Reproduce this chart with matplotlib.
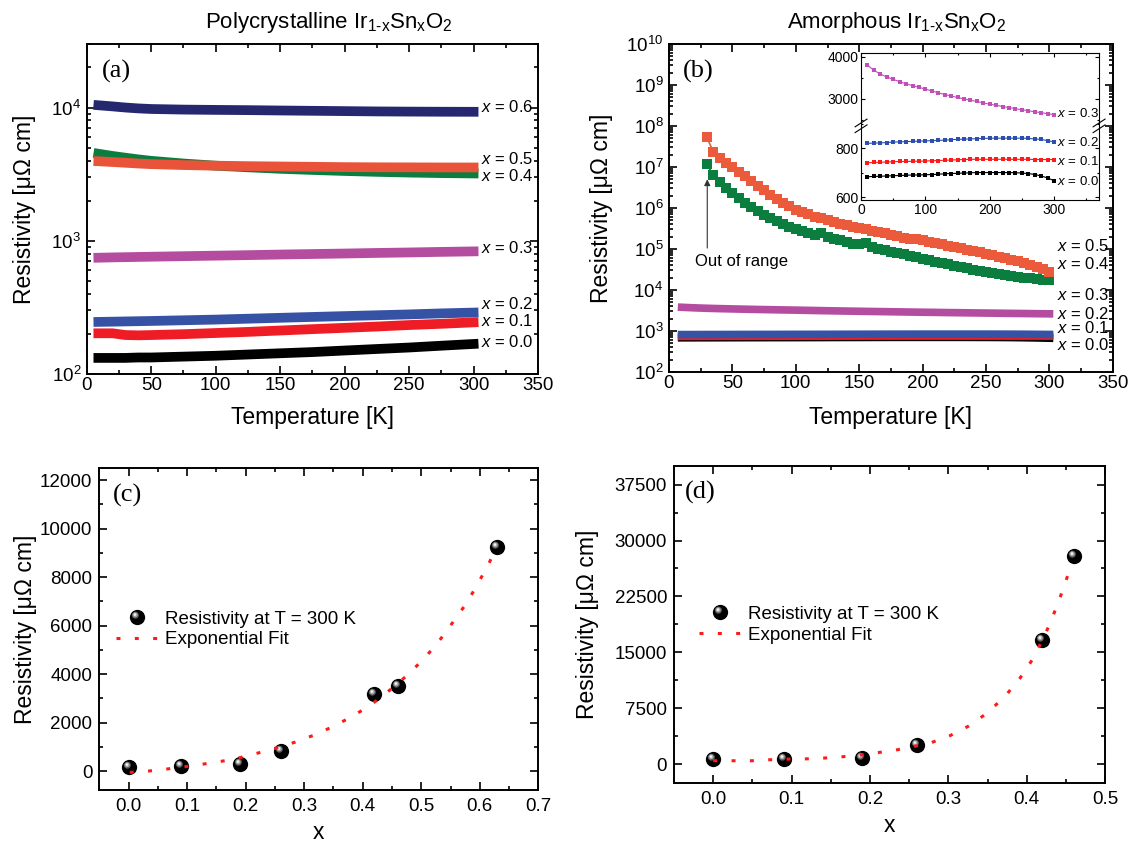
import numpy as np
import matplotlib
matplotlib.use('Agg')
import matplotlib.pyplot as plt
from matplotlib.path import Path
from matplotlib.legend_handler import HandlerTuple
from matplotlib import ticker

plt.rcParams['font.family'] = ['Liberation Sans', 'DejaVu Sans']
plt.rcParams['mathtext.fontset'] = 'custom'
plt.rcParams['mathtext.rm'] = 'Liberation Sans'
plt.rcParams['mathtext.it'] = 'Liberation Sans:italic'
plt.rcParams['mathtext.bf'] = 'Liberation Sans:bold'
plt.rcParams['axes.linewidth'] = 1.4

# ---------------- data ----------------
# (a) polycrystalline, resistivity vs T
T_poly = [9, 20, 30, 40, 50, 75, 100, 125, 150, 175, 200, 225, 250, 275, 300]
poly_x00 = [132, 132, 132, 133, 133, 135, 137, 140, 143, 146, 150, 154, 158, 163, 168]
poly_x01 = [202, 202, 196, 195, 196, 199, 203, 207, 212, 217, 222, 227, 233, 238, 244]
poly_x02 = [246, 247, 248, 249, 250, 253, 256, 260, 264, 268, 272, 276, 280, 285, 289]
poly_x03 = [746, 750, 753, 756, 759, 766, 773, 780, 788, 795, 802, 810, 817, 825, 832]
poly_x04 = [4500, 4330, 4200, 4080, 3980, 3800, 3660, 3560, 3470, 3400, 3340, 3290, 3250, 3220, 3200]
poly_x05 = [3950, 3900, 3850, 3800, 3760, 3700, 3660, 3630, 3610, 3590, 3570, 3560, 3555, 3550, 3550]
poly_x06 = [10400, 10200, 10000, 9850, 9750, 9650, 9600, 9560, 9500, 9450, 9400, 9350, 9320, 9300, 9290]
poly_labels = ['0.0', '0.1', '0.2', '0.3', '0.4', '0.5', '0.6']

# (b) amorphous, x = 0.4 and 0.5 (every 5 K from 30 K)
T_amo_hi = list(range(30, 301, 5))
amo_x05 = [5.3e7, 2.3e7, 1.7e7, 1.27e7, 1.02e7, 7.7e6, 6.0e6, 4.6e6, 3.5e6, 2.7e6,
           2.1e6, 1.65e6, 1.35e6, 1.1e6, 9.2e5, 8.0e5, 7.0e5, 6.2e5, 5.6e5, 5.0e5,
           4.5e5, 4.1e5, 3.8e5, 3.5e5, 3.3e5, 3.05e5, 2.8e5, 2.6e5, 2.4e5, 2.2e5,
           2.05e5, 1.9e5, 1.78e5, 1.74e5, 1.62e5, 1.51e5, 1.40e5, 1.30e5, 1.21e5, 1.12e5,
           1.04e5, 9.6e4, 8.9e4, 8.3e4, 7.7e4, 7.1e4, 6.5e4, 6.0e4, 5.5e4, 5.0e4,
           4.5e4, 4.0e4, 3.6e4, 3.2e4, 2.8e4]
amo_x04 = [1.16e7, 6.3e6, 4.3e6, 3.1e6, 2.3e6, 1.75e6, 1.35e6, 1.05e6, 8.4e5, 6.9e5,
           5.7e5, 4.8e5, 4.1e5, 3.5e5, 3.05e5, 2.7e5, 2.4e5, 2.2e5, 2.45e5, 2.0e5,
           1.8e5, 1.62e5, 1.5e5, 1.3e5, 1.35e5, 1.42e5, 1.1e5, 1.0e5, 9.3e4, 8.6e4,
           8.0e4, 7.4e4, 6.8e4, 6.3e4, 5.8e4, 5.35e4, 4.95e4, 4.6e4, 4.25e4, 3.95e4,
           3.65e4, 3.4e4, 3.15e4, 2.95e4, 2.75e4, 2.6e4, 2.45e4, 2.3e4, 2.2e4, 2.1e4,
           2.0e4, 1.92e4, 1.85e4, 1.78e4, 1.72e4]

# (b) amorphous, x = 0.0 ... 0.3 (inset data, every 10 K)
T_amo_lo = [10, 20, 30, 40, 50, 60, 70, 80, 90, 100, 110, 120, 130, 140, 150,
            160, 170, 180, 190, 200, 210, 220, 230, 240, 250, 260, 270, 280, 290, 300]
amo_x03 = [3800, 3680, 3590, 3520, 3465, 3410, 3360, 3315, 3275, 3235, 3190, 3145, 3105, 3070, 3035,
           3000, 2970, 2940, 2905, 2875, 2850, 2820, 2795, 2770, 2745, 2720, 2695, 2675, 2650, 2630]
amo_x02 = [820, 821, 822, 823, 825, 826, 827, 828, 829, 830, 831, 832, 833, 835, 836,
           837, 838, 839, 840, 841, 841, 841, 841, 841, 841, 840, 838, 836, 831, 826]
amo_x01 = [741, 742, 743, 744, 745, 746, 746, 747, 747, 748, 749, 750, 751, 752, 753,
           754, 755, 755, 755, 755, 755, 755, 755, 755, 755, 755, 754, 754, 754, 754]
amo_x00 = [684, 685, 686, 687, 688, 689, 690, 691, 691, 692, 693, 694, 696, 697, 698,
           699, 700, 701, 701, 701, 701, 701, 701, 700, 699, 697, 693, 687, 679, 668]
amo_labels = ['0.0', '0.1', '0.2', '0.3', '0.4', '0.5']

# (c) polycrystalline resistivity at 300 K vs x, with fit curve
xc_data = [0.0, 0.09, 0.19, 0.26, 0.42, 0.46, 0.63]
rc_data = [160, 220, 280, 825, 3190, 3505, 9250]
xc_fit = [0.002, 0.034, 0.065, 0.096, 0.128, 0.161, 0.192, 0.223, 0.254, 0.285, 0.317, 0.350,
          0.381, 0.413, 0.445, 0.476, 0.507, 0.533, 0.556, 0.578, 0.597, 0.615, 0.628]
rc_fit = [-55, 0, 83, 179, 289, 413, 564, 756, 963, 1196, 1485, 1843,
          2241, 2709, 3314, 3946, 4689, 5445, 6201, 6944, 7741, 8525, 9226]

# (d) amorphous resistivity at 300 K vs x, with fit curve
xd_data = [0.0, 0.09, 0.19, 0.26, 0.42, 0.46]
rd_data = [640, 720, 760, 2600, 16700, 27900]
xd_fit = [0.0, 0.025, 0.049, 0.072, 0.096, 0.118, 0.141, 0.165, 0.187, 0.209, 0.233, 0.255,
          0.279, 0.302, 0.326, 0.349, 0.372, 0.391, 0.407, 0.419, 0.430, 0.439, 0.447, 0.455]
rd_fit = [448, 448, 448, 582, 672, 700, 806, 986, 1210, 1523, 1882, 2330,
          2912, 3808, 5107, 6810, 9050, 11469, 13978, 16442, 18906, 21370, 23610, 26163]

legend_labels = ['Resistivity at T = 300 K', 'Exponential Fit']

# ---------------- styles ----------------
poly_colors = ['#000000', '#ee1c24', '#3552a5', '#b44da0', '#0b7d3e', '#e8533a', '#25276f']
amo_colors = ['#000000', '#ee1c24', '#3552a5', '#b44da0', '#0b7d3e', '#ec5a3c']
inset_colors = ['#000000', '#ff1a1a', '#2e4fb0', '#c050b8']
fit_color = '#ff1a1a'
ylab = 'Resistivity [\u03bc\u03a9 cm]'


def style(ax, lsize=13.5, xpad=2, ypad=4):
    ax.tick_params(which='both', direction='in', top=True, right=True,
                   width=1.2, labelsize=lsize)
    ax.tick_params(which='major', length=5.5)
    ax.tick_params(which='minor', length=3)
    ax.tick_params(axis='x', pad=xpad)
    ax.tick_params(axis='y', pad=ypad)


def circ_path(cx, cy, r):
    c = Path.circle((cx, cy), r)
    box = Path([(-1, -1), (1, 1)], [Path.MOVETO, Path.MOVETO])
    return Path.make_compound_path(c, box)


hl_layers = [(circ_path(-0.28, 0.30, 0.46), '#5a5a5a'),
             (circ_path(-0.30, 0.34, 0.32), '#a8a8a8'),
             (circ_path(-0.33, 0.38, 0.17), '#f2f2f2')]


def balls(ax, x, y, ms=11):
    h = [ax.plot(x, y, ls='none', marker='o', ms=ms, mfc='black', mec='black', mew=0, zorder=3)[0]]
    for p, c in hl_layers:
        h.append(ax.plot(x, y, ls='none', marker=p, ms=ms, mfc=c, mec=c, mew=0, zorder=4)[0])
    return tuple(h)


fig = plt.figure(figsize=(11.34, 8.44), dpi=100)

# ---------------- (a) ----------------
axa = fig.add_axes([0.0765, 0.5569, 0.3980, 0.3910])
for vals, c in zip([poly_x00, poly_x01, poly_x02, poly_x03, poly_x04, poly_x05, poly_x06], poly_colors):
    axa.plot(T_poly, vals, color=c, lw=7, solid_capstyle='projecting', solid_joinstyle='miter')
axa.set_yscale('log')
axa.set_xlim(0, 350)
axa.set_ylim(100, 3e4)
axa.xaxis.set_major_locator(ticker.MultipleLocator(50))
axa.xaxis.set_minor_locator(ticker.MultipleLocator(25))
axa.yaxis.set_major_locator(ticker.LogLocator(base=10, numticks=20))
axa.yaxis.set_minor_locator(ticker.LogLocator(base=10, subs=np.arange(2, 10), numticks=20))
axa.yaxis.set_minor_formatter(ticker.NullFormatter())
style(axa)
axa.set_xlabel('Temperature [K]', fontsize=16.5)
axa.xaxis.label.set_va('center')
axa.xaxis.set_label_coords(0.5, -0.133)
axa.set_ylabel(ylab, fontsize=16.5)
axa.yaxis.label.set_va('center')
axa.yaxis.set_label_coords(-0.137, 0.5)
for lab, yy in zip(poly_labels, [0.096, 0.162, 0.211, 0.381, 0.600, 0.650, 0.808]):
    axa.text(0.873, yy, r'$x$ = ' + lab, transform=axa.transAxes, fontsize=12, va='center', ha='left')
axa.text(0.034, 0.916, '(a)', transform=axa.transAxes, fontsize=19, family='Liberation Serif', va='center')

# ---------------- (b) ----------------
axb = fig.add_axes([0.5899, 0.5592, 0.3915, 0.3886])
for vals, c in zip([amo_x00, amo_x01, amo_x02, amo_x03], amo_colors[:4]):
    axb.plot(T_amo_lo, vals, color=c, lw=5.5, solid_capstyle='projecting', solid_joinstyle='miter')
for vals, c in zip([amo_x04, amo_x05], amo_colors[4:]):
    axb.plot(T_amo_hi, vals, color=c, lw=1.2, marker='s', ms=6.5, mew=0)
axb.set_yscale('log')
axb.set_xlim(0, 350)
axb.set_ylim(1e2, 1e10)
axb.xaxis.set_major_locator(ticker.MultipleLocator(50))
axb.xaxis.set_minor_locator(ticker.MultipleLocator(25))
axb.yaxis.set_major_locator(ticker.LogLocator(base=10, numticks=20))
axb.yaxis.set_minor_locator(ticker.LogLocator(base=10, subs=np.arange(2, 10), numticks=20))
axb.yaxis.set_minor_formatter(ticker.NullFormatter())
style(axb)
axb.set_xlabel('Temperature [K]', fontsize=16.5)
axb.xaxis.label.set_va('center')
axb.xaxis.set_label_coords(0.5, -0.140)
axb.set_ylabel(ylab, fontsize=16.5)
axb.yaxis.label.set_va('center')
axb.yaxis.set_label_coords(-0.153, 0.5)
for lab, yy in zip(amo_labels, [0.083, 0.134, 0.178, 0.234, 0.330, 0.384]):
    axb.text(0.874, yy, r'$x$ = ' + lab, transform=axb.transAxes, fontsize=12, va='center', ha='left')
axb.text(0.032, 0.916, '(b)', transform=axb.transAxes, fontsize=19, family='Liberation Serif', va='center')
axb.annotate('', xy=(0.0863, 0.5875), xytext=(0.0863, 0.378), xycoords='axes fraction',
             arrowprops=dict(arrowstyle='-|>', lw=0.8, color='#333333', mutation_scale=9,
                             shrinkA=0, shrinkB=0))
axb.text(0.0586, 0.336, 'Out of range', transform=axb.transAxes, fontsize=12, va='center', ha='left')

# inset (broken y axis)
ins_up = fig.add_axes([0.7593, 0.8543, 0.2099, 0.0829], facecolor='white')
ins_lo = fig.add_axes([0.7593, 0.7630, 0.2099, 0.0913], facecolor='white')
ins_up.plot(T_amo_lo, amo_x03, color=inset_colors[3], lw=0.8, marker='s', ms=2.2, mew=0)
for vals, c in zip([amo_x00, amo_x01, amo_x02], inset_colors[:3]):
    ins_lo.plot(T_amo_lo, vals, color=c, lw=0.8, marker='s', ms=2.2, mew=0)
for ax in (ins_up, ins_lo):
    ax.set_xlim(0, 370)
    ax.xaxis.set_major_locator(ticker.MultipleLocator(100))
    ax.xaxis.set_minor_locator(ticker.MultipleLocator(50))
    ax.tick_params(which='both', direction='in', top=True, right=True, width=0.8,
                   labelsize=10, pad=2)
    ax.tick_params(which='major', length=3)
    ax.tick_params(which='minor', length=1.5)
    for s in ax.spines.values():
        s.set_linewidth(0.8)
ins_up.set_ylim(2430, 4090)
ins_up.yaxis.set_major_locator(ticker.MultipleLocator(1000))
ins_up.yaxis.set_minor_locator(ticker.MultipleLocator(500))
ins_up.spines['bottom'].set_visible(False)
ins_up.tick_params(which='both', bottom=False, labelbottom=False)
ins_lo.set_ylim(589, 903)
ins_lo.yaxis.set_major_locator(ticker.MultipleLocator(200))
ins_lo.yaxis.set_minor_locator(ticker.MultipleLocator(100))
ins_lo.spines['top'].set_visible(False)
ins_lo.tick_params(which='both', top=False)
d = 0.025
for xx in (0, 1):
    ins_lo.plot([xx - d, xx + d], [1 - 2 * d, 1 + 2 * d], transform=ins_lo.transAxes,
                color='k', lw=0.8, clip_on=False)
    ins_lo.plot([xx - d, xx + d], [1 - 5 * d, 1 - d], transform=ins_lo.transAxes,
                color='k', lw=0.8, clip_on=False)
ins_up.text(0.822, 0.129, r'$x$ = ' + amo_labels[3], transform=ins_up.transAxes, fontsize=9.5, va='center')
for lab, yy in zip(amo_labels[:3], [0.234, 0.497, 0.753]):
    ins_lo.text(0.822, yy, r'$x$ = ' + lab, transform=ins_lo.transAxes, fontsize=9.5, va='center')

# ---------------- (c) ----------------
axc = fig.add_axes([0.0876, 0.0640, 0.3871, 0.3819])
hc = balls(axc, xc_data, rc_data)
fc, = axc.plot(xc_fit, rc_fit, color=fit_color, lw=2.2, ls=(0, (1.3, 4.7)), zorder=5)
axc.set_xlim(-0.05, 0.7)
axc.set_ylim(-780, 12510)
axc.xaxis.set_major_locator(ticker.MultipleLocator(0.1))
axc.xaxis.set_minor_locator(ticker.MultipleLocator(0.05))
axc.xaxis.set_major_formatter(ticker.FormatStrFormatter('%.1f'))
axc.yaxis.set_major_locator(ticker.MultipleLocator(2000))
axc.yaxis.set_minor_locator(ticker.MultipleLocator(1000))
style(axc, xpad=6, ypad=5)
axc.set_xlabel('x', fontsize=16.5)
axc.xaxis.label.set_va('center')
axc.xaxis.set_label_coords(0.5, -0.133)
axc.set_ylabel(ylab, fontsize=16.5)
axc.yaxis.label.set_va('center')
axc.yaxis.set_label_coords(-0.169, 0.5)
axc.text(0.031, 0.915, '(c)', transform=axc.transAxes, fontsize=19, family='Liberation Serif', va='center')
axc.legend([hc, fc], legend_labels, handler_map={tuple: HandlerTuple(ndivide=1, pad=0)},
           loc='center left', bbox_to_anchor=(0.038, 0.498), frameon=False, fontsize=13.5,
           handlelength=2.25, handletextpad=0.35, labelspacing=0.2, borderpad=0, borderaxespad=0,
           numpoints=1)

# ---------------- (d) ----------------
axd = fig.add_axes([0.5944, 0.0726, 0.3801, 0.3753])
hd = balls(axd, xd_data, rd_data)
fd, = axd.plot(xd_fit, rd_fit, color=fit_color, lw=2.2, ls=(0, (1.3, 4.7)), zorder=5)
axd.set_xlim(-0.05, 0.5)
axd.set_ylim(-2500, 40000)
axd.xaxis.set_major_locator(ticker.MultipleLocator(0.1))
axd.xaxis.set_minor_locator(ticker.MultipleLocator(0.05))
axd.xaxis.set_major_formatter(ticker.FormatStrFormatter('%.1f'))
axd.yaxis.set_major_locator(ticker.MultipleLocator(7500))
axd.yaxis.set_minor_locator(ticker.MultipleLocator(3750))
style(axd, xpad=6, ypad=5)
axd.set_xlabel('x', fontsize=16.5)
axd.xaxis.label.set_va('center')
axd.xaxis.set_label_coords(0.5, -0.134)
axd.set_ylabel(ylab, fontsize=16.5)
axd.yaxis.label.set_va('center')
axd.yaxis.set_label_coords(-0.200, 0.5)
axd.text(0.026, 0.916, '(d)', transform=axd.transAxes, fontsize=19, family='Liberation Serif', va='center')
axd.legend([hd, fd], legend_labels, handler_map={tuple: HandlerTuple(ndivide=1, pad=0)},
           loc='center left', bbox_to_anchor=(0.058, 0.499), frameon=False, fontsize=13.5,
           handlelength=2.25, handletextpad=0.35, labelspacing=0.2, borderpad=0, borderaxespad=0,
           numpoints=1)

# ---------------- titles ----------------
fig.text(0.290, 0.9668, r'Polycrystalline Ir$_{\mathregular{1\text{-}x}}$Sn$_{\mathregular{x}}$O$_{\mathregular{2}}$',
         fontsize=16, ha='center', va='baseline')
fig.text(0.791, 0.9668, r'Amorphous Ir$_{\mathregular{1\text{-}x}}$Sn$_{\mathregular{x}}$O$_{\mathregular{2}}$',
         fontsize=16, ha='center', va='baseline')

fig.savefig('out.png', dpi=100)
